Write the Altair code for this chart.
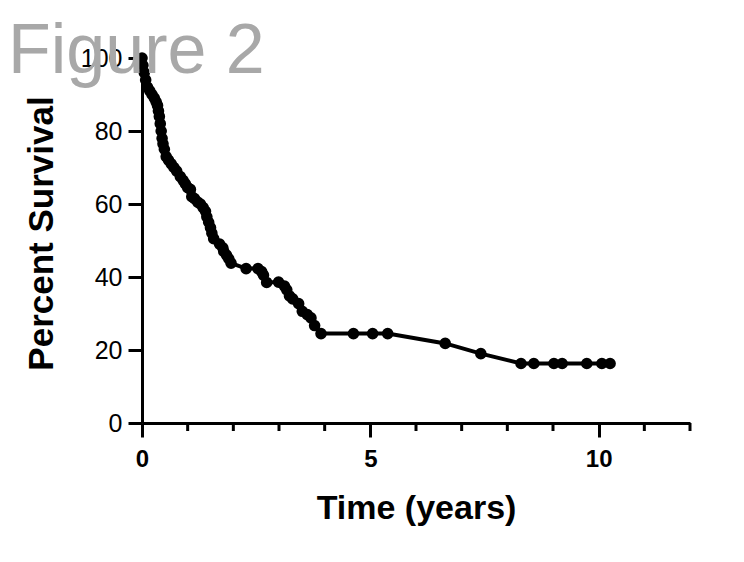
import altair as alt
import pandas as pd

# survival curve
years = [0, 0.02, 0.05, 0.08, 0.12, 0.17, 0.22, 0.27, 0.31, 0.34,
         0.36, 0.38, 0.40, 0.42, 0.44, 0.46, 0.49, 0.53, 0.58, 0.64,
         0.70, 0.76, 0.84, 0.90, 0.95, 1.00, 1.06, 1.09, 1.15, 1.22,
         1.28, 1.34, 1.39, 1.42, 1.46, 1.50, 1.53, 1.57, 1.70, 1.77,
         1.79, 1.85, 1.90, 1.95, 2.28, 2.54, 2.62, 2.66, 2.73, 2.99,
         3.12, 3.17, 3.23, 3.30, 3.43, 3.51, 3.62, 3.70, 3.78, 3.92,
         4.63, 5.05, 5.38, 6.64, 7.42, 8.30, 8.58, 9.02, 9.20, 9.74,
         10.07, 10.25]
survival = [100, 98, 96, 94, 92, 91, 90, 89, 88, 87,
            85.5, 84, 82, 80, 78, 76.5, 75, 73, 72, 71,
            70, 69, 67.5, 66.5, 65.5, 64.5, 64, 62, 61.5, 60.5,
            60, 59, 58, 56.5, 55, 53.5, 52, 50.5, 49, 48,
            47, 46, 45, 43.8, 42.3, 42.3, 41.5, 40.5, 38.5, 38.6,
            37.5, 36.5, 34.8, 34, 32.7, 30.6, 29.7, 28.8, 26.7, 24.5,
            24.5, 24.5, 24.5, 21.8, 19.0, 16.3, 16.3, 16.3, 16.3, 16.3,
            16.3, 16.3]

major_ticks = [0, 5, 10]
minor_ticks = [1, 2, 3, 4, 6, 7, 8, 9, 11, 12]
y_ticks = [0, 20, 40, 60, 80, 100]

FONT = "Liberation Sans"
W, H = 548, 365

df = pd.DataFrame({"years": years, "survival": survival})

x_scale = alt.Scale(domain=[0, 12], nice=False, zero=False)
y_scale = alt.Scale(domain=[0, 100], nice=False)

x_axis = alt.Axis(values=major_ticks, format="d", title="Time (years)",
                  tickSize=14, labelPadding=10, labelFontSize=24,
                  labelFontWeight="bold", labelFlush=False, titleFontSize=34,
                  titleFontWeight="bold", titlePadding=20)

base = alt.Chart(df).encode(
    x=alt.X("years:Q", scale=x_scale, axis=x_axis),
    y=alt.Y("survival:Q", scale=y_scale,
            axis=alt.Axis(values=y_ticks, format="d", title="Percent Survival",
                          tickSize=14, labelPadding=6, labelFontSize=25,
                          labelFontWeight="normal", labelFlush=False,
                          titleFontSize=35, titleFontWeight="bold",
                          titlePadding=21, titleY=175)),
)

line = base.mark_line(color="black", strokeWidth=4)
dots = base.mark_circle(color="black", opacity=1, size=135)

# short ticks between the labelled ones
minor = alt.Chart(pd.DataFrame({"years": minor_ticks})).mark_rule(
    color="black", strokeWidth=3
).encode(
    x=alt.X("years:Q", scale=x_scale, axis=x_axis),
    y=alt.value(H),
    y2=alt.value(H + 8),
)

fig_label = alt.Chart(pd.DataFrame({"label": ["Figure 2"]})).mark_text(
    align="left", baseline="alphabetic", fontSize=70, color="#a8a8a8", font=FONT
).encode(
    text="label:N",
    x=alt.value(-134),
    y=alt.value(15),
)

chart = alt.layer(line, dots, minor, fig_label).properties(
    width=W,
    height=H,
    autosize=alt.AutoSizeParams(type="none"),
    padding={"left": 134, "top": 50, "right": 30, "bottom": 120},
).configure_view(
    stroke=None
).configure_axis(
    grid=False,
    domainColor="black",
    domainWidth=3,
    tickColor="black",
    tickWidth=3,
    labelColor="black",
    titleColor="black",
    labelFont=FONT,
    titleFont=FONT,
)

chart.save("out.html", embed_options={"renderer": "svg", "actions": False})
